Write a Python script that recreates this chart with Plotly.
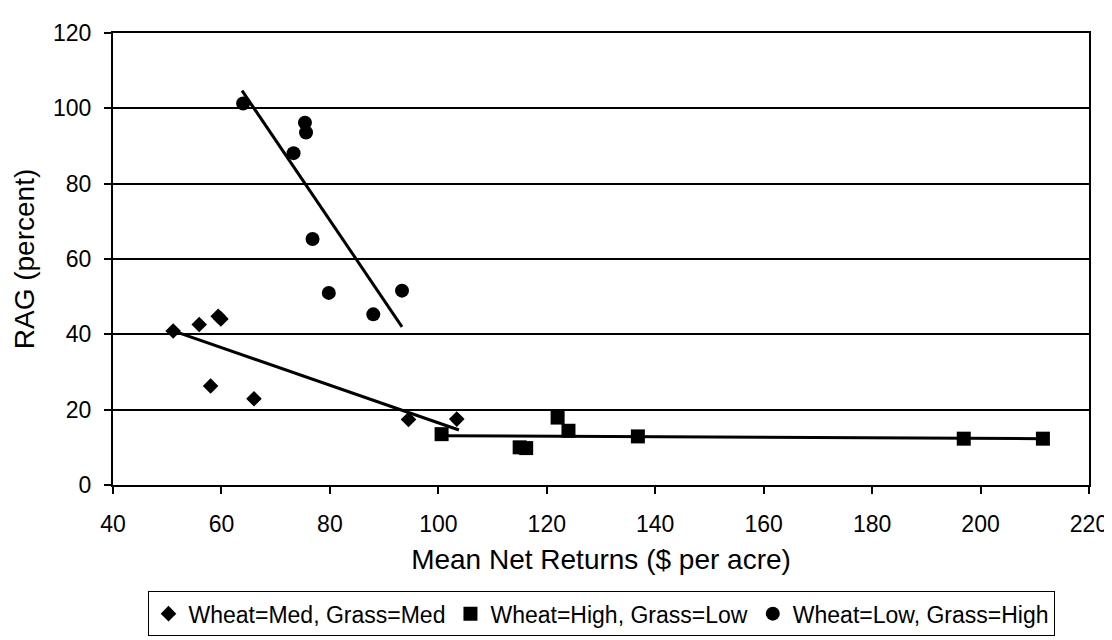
import plotly.graph_objects as go

# Wheat=Med, Grass=Med
med_x = [51.1, 55.9, 59.4, 59.9, 58.0, 66.0, 94.5, 103.4]
med_y = [40.9, 42.6, 44.8, 44.1, 26.3, 22.9, 17.4, 17.5]
med_trend_x = [51.1, 103.8]
med_trend_y = [40.9, 14.6]

# Wheat=High, Grass=Low
high_x = [100.6, 115.0, 116.2, 122.0, 124.0, 136.8, 196.9, 211.5]
high_y = [13.5, 10.0, 9.8, 17.9, 14.4, 12.9, 12.3, 12.3]
high_trend_x = [100.6, 211.5]
high_trend_y = [13.1, 12.3]

# Wheat=Low, Grass=High
low_x = [64.0, 75.4, 75.6, 73.3, 76.8, 79.8, 93.3, 88.0]
low_y = [101.3, 96.2, 93.6, 88.1, 65.3, 51.0, 51.6, 45.3]
low_trend_x = [63.8, 93.3]
low_trend_y = [104.7, 42.0]

x_ticks = [40, 60, 80, 100, 120, 140, 160, 180, 200, 220]
y_ticks = [0, 20, 40, 60, 80, 100, 120]

fig = go.Figure()

for tx, ty in [(med_trend_x, med_trend_y), (high_trend_x, high_trend_y), (low_trend_x, low_trend_y)]:
    fig.add_trace(go.Scatter(
        x=tx, y=ty, mode="lines", line={"color": "black", "width": 3},
        showlegend=False, hoverinfo="skip",
    ))

fig.add_trace(go.Scatter(
    x=med_x, y=med_y, mode="markers", name="Wheat=Med, Grass=Med",
    marker={"symbol": "diamond", "size": 12, "color": "black"},
))
fig.add_trace(go.Scatter(
    x=high_x, y=high_y, mode="markers", name="Wheat=High, Grass=Low",
    marker={"symbol": "square", "size": 14, "color": "black"},
))
fig.add_trace(go.Scatter(
    x=low_x, y=low_y, mode="markers", name="Wheat=Low, Grass=High",
    marker={"symbol": "circle", "size": 14, "color": "black"},
))

axis_style = {
    "zeroline": False,
    "showline": True,
    "linecolor": "black",
    "linewidth": 2,
    "mirror": True,
    "ticks": "outside",
    "ticklen": 7,
    "tickcolor": "black",
    "tickwidth": 2,
}

fig.update_layout(
    width=1112,
    height=640,
    margin={"l": 105, "r": 29, "t": 17, "b": 151},
    paper_bgcolor="white",
    plot_bgcolor="white",
    font={"family": "Liberation Sans, Arial, sans-serif", "size": 23, "color": "black"},
    legend={
        "orientation": "h",
        "x": 0.5,
        "xanchor": "center",
        "y": -0.235,
        "yanchor": "top",
        "bordercolor": "black",
        "borderwidth": 1,
        "font": {"size": 23},
        "itemwidth": 30,
        "tracegroupgap": 0,
    },
    xaxis={
        **axis_style,
        "range": [40, 220],
        "tickvals": x_ticks,
        "showgrid": False,
        "ticklabelstandoff": 10,
        "title": {"text": "Mean Net Returns ($ per acre)", "standoff": 14},
    },
    yaxis={
        **axis_style,
        "range": [0, 120],
        "tickvals": y_ticks,
        "showgrid": True,
        "gridcolor": "black",
        "gridwidth": 1.5,
        "ticklabelstandoff": 8,
        "title": {"text": "RAG (percent)", "standoff": 10},
    },
)

fig.write_html("out.html")
